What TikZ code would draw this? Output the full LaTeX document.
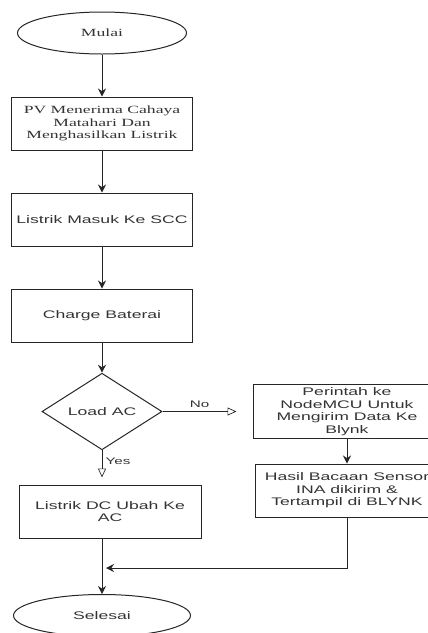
\documentclass[tikz,border=0pt]{standalone}
\usepackage{fontspec}
\usepackage{tikz}
\usetikzlibrary{positioning, shapes.geometric, calc, arrows.meta}
\newfontfamily\serifw{Liberation Serif}[FakeStretch=1.6]
\newfontfamily\sansw{Liberation Sans}[FakeStretch=1.6]
\tikzstyle{startstop} = [ellipse, minimum width=169pt, minimum height=42pt, text centered, draw=black!85, line width=1pt]
\tikzstyle{process} = [rectangle, minimum width=181pt, minimum height=53pt, text centered, draw=black!85, line width=1pt]
\tikzstyle{decision} = [diamond, minimum width=120pt, minimum height=67pt, inner sep=0pt, text centered, draw=black!85, line width=1pt]
\tikzstyle{arrow} = [line width=1pt, draw=black!85, -{Stealth[length=8pt, width=8pt]}]
\tikzstyle{openarrow} = [line width=0.7pt, draw=black!85, -{Triangle[open, length=9pt, width=8pt]}]
\tikzstyle{every node}=[text=black!80, font=\sansw\fontsize{11}{12.5}\selectfont]
\tikzstyle{serif} = [font=\serifw\fontsize{11}{12.5}\selectfont]
\tikzstyle{small} = [font=\sansw\fontsize{9.5}{11}\selectfont]

\begin{document}
\begin{tikzpicture}[x=1pt, y=1pt, node distance=96pt, align=center]
  \useasboundingbox (0,0) rectangle (428,-633);
  \clip (0,0) rectangle (428,-633);
  % bentuk utama
  \node (start) [startstop, serif] at (102,-33) {Mulai};
  \node (pro1) [process, serif, below of=start, yshift=5.5pt] {PV Menerima Cahaya\\ Matahari Dan\\ Menghasilkan Listrik};
  \node (pro2) [process, below of=pro1] {Listrik Masuk Ke SCC};
  \node (pro3) [process, below of=pro2] {Charge Baterai};
  \node (dec1) [decision, below of=pro3] {Load AC};

  % 'No'
  \node (pro4) [process, minimum width=188pt, minimum height=52pt, right of=dec1, xshift=149pt] {Perintah ke\\ NodeMCU Untuk\\ Mengirim Data Ke\\ Blynk};
  \node (pro5) [process, minimum width=184pt, below of=pro4, yshift=17pt] {Hasil Bacaan Sensor\\ INA dikirim \&\\ Tertampil di BLYNK};

  % 'Yes'
  \node (pro6) [process, minimum width=182pt, below of=dec1, yshift=-4pt, xshift=8pt] {Listrik DC Ubah Ke\\ AC};
  \node (stop) [startstop, minimum width=177pt, below of=pro6, yshift=-8pt, xshift=-8pt] {Selesai};

  % penghubung
  \draw [arrow](start) -- (pro1);
  \draw [arrow](pro1) -- (pro2);
  \draw [arrow](pro2) -- (pro3);
  \draw [arrow](pro3) -- (dec1);

  \draw [openarrow](dec1.east) -- node[small, above] {No} ($(pro4.west) + (-16pt, 0)$);
  \draw [arrow](pro4) -- (pro5);
  \draw [arrow](pro5.south) |- ($(stop.north) + (4pt, 26pt)$);

  \draw [openarrow](dec1.south) -- node[small, anchor=west, pos=0.4] {Yes} ($(dec1 |- pro6.north) + (0, 7pt)$);
  \draw [arrow](pro6.south -| stop.north) -- (stop.north);
\end{tikzpicture}
\end{document}
